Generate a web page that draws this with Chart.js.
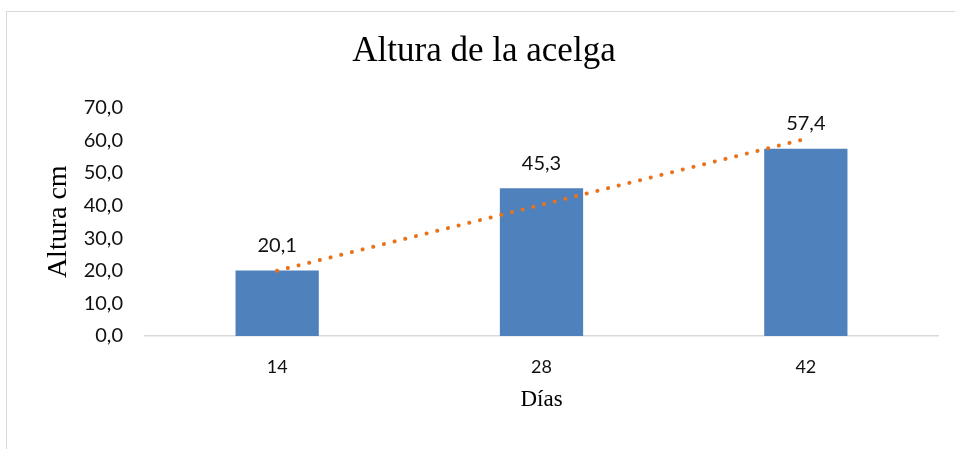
<!DOCTYPE html>
<html lang="es">
<head>
<meta charset="utf-8">
<title>Altura de la acelga</title>
<script src="https://cdn.jsdelivr.net/npm/chart.js@4.4.1/dist/chart.umd.min.js"></script>
<style>
  html, body { margin: 0; padding: 0; background: #fff; overflow: hidden; }
  .wrap { position: relative; width: 955px; height: 449px; }
  .frame {
    position: absolute; left: 6px; top: 11px; width: 1000px; height: 500px;
    border: 1.5px solid #d9d9d9; pointer-events: none;
  }
</style>
</head>
<body>
<div class="wrap">
  <canvas id="acelgaChart"></canvas>
  <div class="frame"></div>
</div>
<script>
// datos
const dias = ['14', '28', '42'];
const alturas = [20.1, 45.3, 57.4];
const tendencia = [20.0, 40.2, 60.4]; // linea de tendencia punteada
const yTicks = ['0,0', '10,0', '20,0', '30,0', '40,0', '50,0', '60,0', '70,0'];

const fmt = v => v.toFixed(1).replace('.', ',');

// etiquetas de valor encima de cada barra
const valueLabels = {
  id: 'valueLabels',
  afterDatasetsDraw(chart) {
    const meta = chart.getDatasetMeta(0);
    const ctx = chart.ctx;
    ctx.save();
    ctx.font = '20px Lato';
    ctx.fillStyle = '#111';
    ctx.textAlign = 'center';
    ctx.textBaseline = 'alphabetic';
    meta.data.forEach((bar, i) => {
      ctx.fillText(fmt(alturas[i]), bar.x, bar.y - 18.5);
    });
    ctx.restore();
  }
};

const ctx = document.getElementById('acelgaChart').getContext('2d');
new Chart(ctx, {
  type: 'bar',
  data: {
    labels: dias,
    datasets: [{
      label: 'Altura',
      data: alturas,
      backgroundColor: '#4F81BD',
      barPercentage: 0.315,
      categoryPercentage: 1,
      order: 1
    }, {
      type: 'line',
      label: 'Tendencia',
      data: tendencia,
      borderColor: '#E8731A',
      borderWidth: 4,
      borderCapStyle: 'round',
      borderDash: [0.1, 10.9],
      pointRadius: 0,
      fill: false,
      order: 0
    }]
  },
  options: {
    responsive: true,
    maintainAspectRatio: false,
    animation: false,
    layout: { padding: { top: 0, left: 30, right: 17, bottom: 0 } },
    plugins: {
      legend: { display: false },
      tooltip: { enabled: false },
      title: {
        display: true,
        text: 'Altura de la acelga',
        color: '#000',
        font: { family: '"Liberation Serif", "Times New Roman", serif', size: 35, weight: 'normal' },
        padding: { top: 30.5, bottom: 35 }
      }
    },
    scales: {
      x: {
        grid: { display: false, drawTicks: false },
        border: { display: true, color: '#d9d9d9', width: 1.5 },
        ticks: { color: '#111', font: { family: 'Lato', size: 18 }, padding: 20 },
        title: {
          display: true,
          text: 'Días',
          color: '#000',
          font: { family: '"Liberation Serif", "Times New Roman", serif', size: 23 },
          padding: { top: 10, bottom: 35 }
        },
        afterFit(scale) { scale.height = 113; }
      },
      y: {
        min: 0,
        max: 70,
        grid: { display: false, drawTicks: false },
        border: { display: false },
        ticks: {
          stepSize: 10,
          color: '#111',
          font: { family: 'Lato', size: 20 },
          padding: 22,
          callback: (v, i) => yTicks[i]
        },
        title: {
          display: true,
          text: 'Altura cm',
          color: '#000',
          font: { family: '"Liberation Serif", "Times New Roman", serif', size: 28 },
          padding: { top: 11.7, bottom: 0 }
        },
        afterFit(scale) { scale.width = 115; }
      }
    }
  },
  plugins: [valueLabels]
});
</script>
</body>
</html>
